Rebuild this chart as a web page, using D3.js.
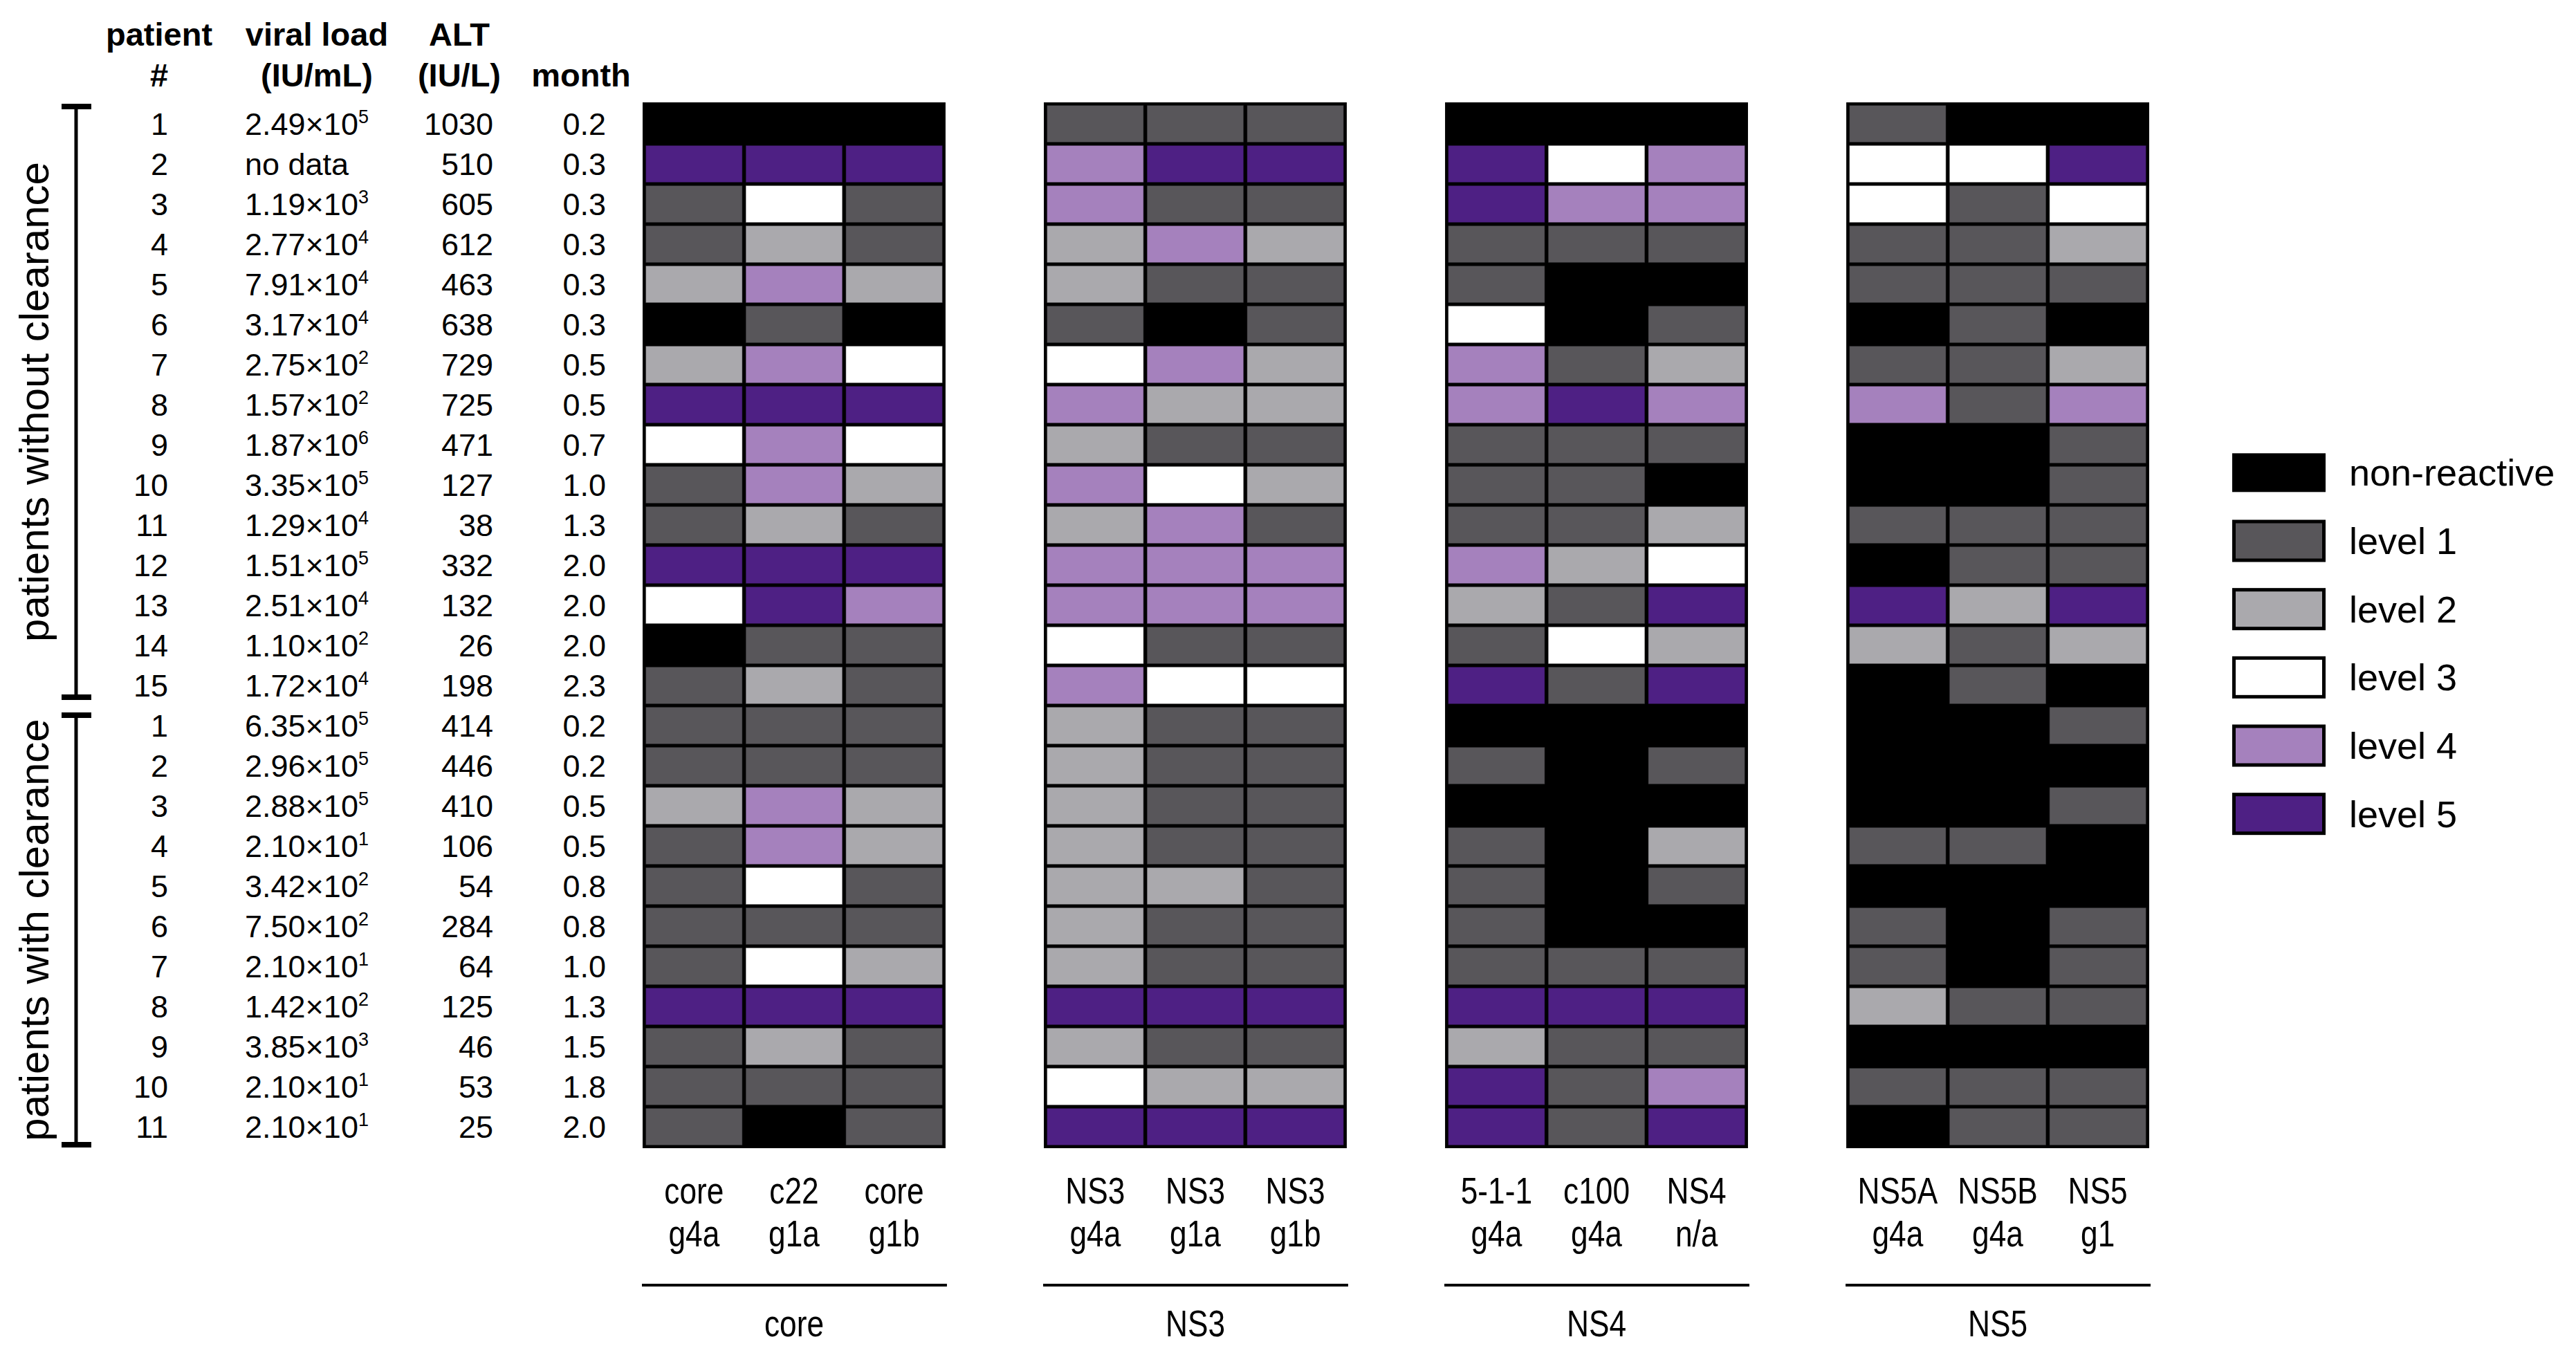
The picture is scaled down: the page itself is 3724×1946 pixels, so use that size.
<!DOCTYPE html>
<html>
<head>
<meta charset="utf-8">
<script src="https://cdn.jsdelivr.net/npm/d3@7"></script>
<style>
  body { margin: 0; background: #fff; }
  text { font-family: "Liberation Sans", Arial, sans-serif; fill: #000; }
</style>
</head>
<body>
<div id="container"></div>
<script>
/* CONSTANTS AND GLOBALS */
const width = 3724,
      height = 1946;

// table rows (15 without clearance, 11 with clearance)
const patientNo = [1,2,3,4,5,6,7,8,9,10,11,12,13,14,15, 1,2,3,4,5,6,7,8,9,10,11];
const vlMantissa = ["2.49",null,"1.19","2.77","7.91","3.17","2.75","1.57","1.87","3.35","1.29","1.51","2.51","1.10","1.72",
                    "6.35","2.96","2.88","2.10","3.42","7.50","2.10","1.42","3.85","2.10","2.10"];
const vlExponent = [5,null,3,4,4,4,2,2,6,5,4,5,4,2,4, 5,5,5,1,2,2,1,2,3,1,1];
const altValues = [1030,510,605,612,463,638,729,725,471,127,38,332,132,26,198, 414,446,410,106,54,284,64,125,46,53,25];
const monthValues = ["0.2","0.3","0.3","0.3","0.3","0.3","0.5","0.5","0.7","1.0","1.3","2.0","2.0","2.0","2.3",
                     "0.2","0.2","0.5","0.5","0.8","0.8","1.0","1.3","1.5","1.8","2.0"];
const patientGroups = ["patients without clearance", "patients with clearance"];

// antigen panels
const antigenGroups = ["core", "NS3", "NS4", "NS5"];
const antigenNames = [["core","c22","core"], ["NS3","NS3","NS3"], ["5-1-1","c100","NS4"], ["NS5A","NS5B","NS5"]];
const antigenGenotypes = [["g4a","g1a","g1b"], ["g4a","g1a","g1b"], ["g4a","g4a","n/a"], ["g4a","g4a","g1"]];

// reactivity level per row, 0 = non-reactive
const coreLevels = [[0,0,0],[5,5,5],[1,3,1],[1,2,1],[2,4,2],[0,1,0],[2,4,3],[5,5,5],[3,4,3],[1,4,2],[1,2,1],[5,5,5],[3,5,4],[0,1,1],[1,2,1],
                    [1,1,1],[1,1,1],[2,4,2],[1,4,2],[1,3,1],[1,1,1],[1,3,2],[5,5,5],[1,2,1],[1,1,1],[1,0,1]];
const ns3Levels = [[1,1,1],[4,5,5],[4,1,1],[2,4,2],[2,1,1],[1,0,1],[3,4,2],[4,2,2],[2,1,1],[4,3,2],[2,4,1],[4,4,4],[4,4,4],[3,1,1],[4,3,3],
                   [2,1,1],[2,1,1],[2,1,1],[2,1,1],[2,2,1],[2,1,1],[2,1,1],[5,5,5],[2,1,1],[3,2,2],[5,5,5]];
const ns4Levels = [[0,0,0],[5,3,4],[5,4,4],[1,1,1],[1,0,0],[3,0,1],[4,1,2],[4,5,4],[1,1,1],[1,1,0],[1,1,2],[4,2,3],[2,1,5],[1,3,2],[5,1,5],
                   [0,0,0],[1,0,1],[0,0,0],[1,0,2],[1,0,1],[1,0,0],[1,1,1],[5,5,5],[2,1,1],[5,1,4],[5,1,5]];
const ns5Levels = [[1,0,0],[3,3,5],[3,1,3],[1,1,2],[1,1,1],[0,1,0],[1,1,2],[4,1,4],[0,0,1],[0,0,1],[1,1,1],[0,1,1],[5,2,5],[2,1,2],[0,1,0],
                   [0,0,1],[0,0,0],[0,0,1],[1,1,0],[0,0,0],[1,0,1],[1,0,1],[2,1,1],[0,0,0],[1,1,1],[0,1,1]];

const levelKeys = [0,1,2,3,4,5];
const levelLabels = ["non-reactive","level 1","level 2","level 3","level 4","level 5"];
const levelColors = ["#000000","#58565a","#aaa9ad","#ffffff","#a581bd","#4e2084"];

let svg, rowScale, panelScale, colorScale;

init();

/* INITIALIZING FUNCTION */
function init() {
  svg = d3.select("#container").append("svg")
    .attr("width", width)
    .attr("height", height);

  // + SCALES
  rowScale = d3.scaleBand()
    .domain(d3.range(patientNo.length))
    .range([150, 1658]);

  panelScale = d3.scaleBand()
    .domain(antigenGroups)
    .range([929, 3107])
    .paddingInner(0.245);

  colorScale = d3.scaleOrdinal()
    .domain(levelKeys)
    .range(levelColors);

  drawTable();
  drawBrackets();
  drawPanels();
  drawLegend();
}

/* LEFT TABLE */
function drawTable() {
  const head = svg.append("g").attr("font-weight", "bold").attr("font-size", 47).attr("text-anchor", "middle");
  [["patient", 230, 66], ["#", 230, 125], ["viral load", 458, 66], ["(IU/mL)", 458, 125],
   ["ALT", 664, 66], ["(IU/L)", 664, 125], ["month", 840, 125]]
    .forEach(h => head.append("text").attr("x", h[1]).attr("y", h[2]).text(h[0]));

  const rows = svg.append("g").attr("font-size", 45)
    .selectAll("g.row")
    .data(patientNo.map((d, i) => i))
    .join("g")
      .attr("class", "row")
      .attr("transform", i => `translate(0,${rowScale(i) + rowScale.bandwidth()/2 + 16})`);

  rows.append("text").attr("x", 243).attr("text-anchor", "end").text(i => patientNo[i]);

  rows.append("text").attr("x", 354)
    .each(function(i) {
      const t = d3.select(this);
      if (vlMantissa[i] === null) { t.text("no data"); return; }
      t.append("tspan").text(`${vlMantissa[i]}×10`);
      t.append("tspan").attr("dy", -17).attr("font-size", 27).text(vlExponent[i]);
    });

  rows.append("text").attr("x", 713).attr("text-anchor", "end").text(i => altValues[i]);
  rows.append("text").attr("x", 876).attr("text-anchor", "end").text(i => monthValues[i]);
}

/* GROUP BRACKETS + ROTATED LABELS */
function drawBrackets() {
  const spans = [[154, 1008], [1034, 1655]];
  const g = svg.append("g");
  spans.forEach((s, k) => {
    g.append("line").attr("x1", 110).attr("x2", 110).attr("y1", s[0]).attr("y2", s[1])
      .attr("stroke", "#000").attr("stroke-width", 5);
    [s[0], s[1]].forEach(y => g.append("line")
      .attr("x1", 89).attr("x2", 132).attr("y1", y).attr("y2", y)
      .attr("stroke", "#000").attr("stroke-width", 8));
    g.append("text")
      .attr("transform", `translate(70,${(s[0] + s[1]) / 2}) rotate(-90)`)
      .attr("text-anchor", "middle")
      .attr("font-size", 60)
      .text(patientGroups[k]);
  });
}

/* HEATMAP PANELS */
function drawPanels() {
  const allLevels = [coreLevels, ns3Levels, ns4Levels, ns5Levels];

  antigenGroups.forEach((grp, p) => {
    const x0 = panelScale(grp), pw = panelScale.bandwidth();
    const colScale = d3.scaleBand().domain([0, 1, 2]).range([x0 + 2, x0 + pw - 2]);
    const panel = svg.append("g").attr("class", "panel");

    panel.append("rect")
      .attr("x", x0).attr("y", 148)
      .attr("width", pw).attr("height", 1512)
      .attr("fill", "#000");

    const cells = allLevels[p].flatMap((row, i) => row.map((v, j) => ({row: i, col: j, level: v})));
    panel.selectAll("rect.cell")
      .data(cells)
      .join("rect")
        .attr("class", "cell")
        .attr("x", d => colScale(d.col) + 2.5)
        .attr("y", d => rowScale(d.row) + 2.3)
        .attr("width", colScale.bandwidth() - 5)
        .attr("height", rowScale.bandwidth() - 4.6)
        .attr("fill", d => colorScale(d.level))
        .attr("stroke", d => d.level === 0 ? "none" : "rgba(0,0,0,0.35)")
        .attr("stroke-width", 1.2);

    // column labels, narrow type
    const labs = panel.append("g").attr("font-size", 54).attr("text-anchor", "middle");
    [0, 1, 2].forEach(j => {
      const cx = colScale(j) + colScale.bandwidth() / 2;
      labs.append("text").attr("transform", `translate(${cx},1740) scale(0.82,1)`).text(antigenNames[p][j]);
      labs.append("text").attr("transform", `translate(${cx},1802) scale(0.82,1)`).text(antigenGenotypes[p][j]);
    });

    panel.append("line")
      .attr("x1", x0 - 1).attr("x2", x0 + pw + 2)
      .attr("y1", 1858).attr("y2", 1858)
      .attr("stroke", "#000").attr("stroke-width", 4);

    panel.append("text")
      .attr("transform", `translate(${x0 + pw / 2},1932) scale(0.82,1)`)
      .attr("text-anchor", "middle")
      .attr("font-size", 54)
      .text(grp);
  });
}

/* LEGEND */
function drawLegend() {
  const legendY = d3.scaleBand().domain(levelKeys).range([634, 1226]);
  const items = svg.append("g").selectAll("g.key")
    .data(levelKeys)
    .join("g")
      .attr("class", "key")
      .attr("transform", d => `translate(0,${legendY(d) + legendY.bandwidth() / 2})`);

  items.append("rect")
    .attr("x", d => d === 0 ? 3227 : 3229.5)
    .attr("y", -28)
    .attr("width", d => d === 0 ? 135 : 130)
    .attr("height", 56)
    .attr("fill", d => colorScale(d))
    .attr("stroke", d => d === 0 ? "none" : "#000")
    .attr("stroke-width", 5);

  items.append("text")
    .attr("x", 3396)
    .attr("y", 19)
    .attr("font-size", 54)
    .text(d => levelLabels[d]);
}
</script>
</body>
</html>
